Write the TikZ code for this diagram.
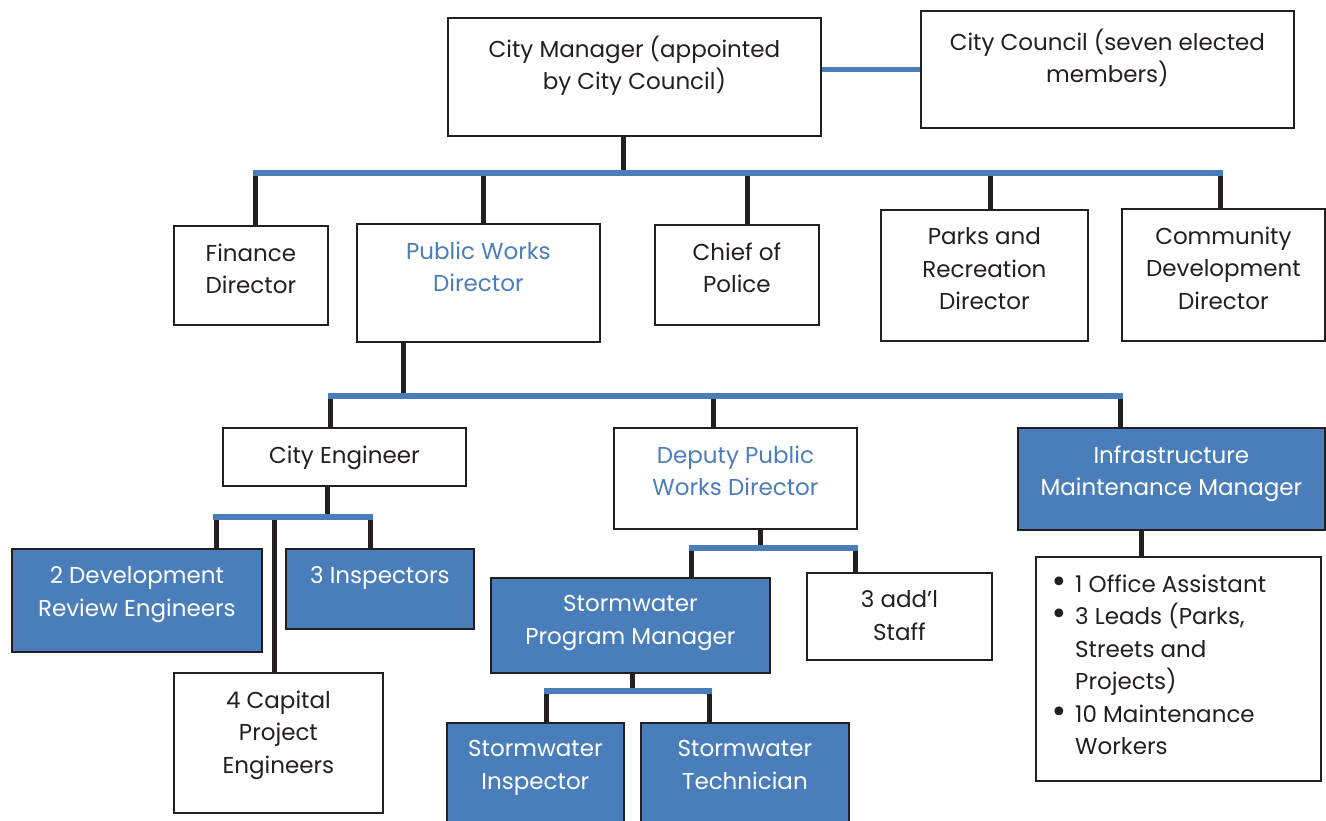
\documentclass[tikz,border=0pt]{standalone}
\usepackage{fontspec}
\setmainfont{Poppins}
\newfontfamily\dvs{DejaVu Sans}
\definecolor{bblue}{RGB}{74,126,187}
\definecolor{edge}{RGB}{35,31,32}
\newcommand\mybul{\llap{\raisebox{0pt}{\dvs\fontsize{30}{30}\selectfont •}\hspace{7pt}}}
\begin{document}
\begin{tikzpicture}[x=1pt,y=-1pt,
 box/.style={draw=edge,line width=1.8pt,fill=white,inner sep=0,anchor=north west},
 fbox/.style={box,fill=bblue},
 lbl/.style={anchor=north,align=center,inner sep=0,font=\fontsize{23}{32.5}\selectfont,text=edge,yshift=-18.5pt},
 wlbl/.style={lbl,text=white},
 blbl/.style={lbl,text=bblue},
 vline/.style={draw=edge,line width=5pt},
 hline/.style={draw=bblue,line width=5.5pt}]
\useasboundingbox (0,0) rectangle (1326,821);
% boxes
\node[box,minimum width=373,minimum height=118] (cm) at (447,17) {};
\node[box,minimum width=373,minimum height=117] (cc) at (920,10) {};
\node[box,minimum width=154,minimum height=99] (fin) at (173,225) {};
\node[box,minimum width=243,minimum height=118] (pwd) at (356,223) {};
\node[box,minimum width=164,minimum height=100] (cop) at (654,224) {};
\node[box,minimum width=207,minimum height=131] (prd) at (880,209) {};
\node[box,minimum width=203,minimum height=132] (cdd) at (1121,208) {};
\node[box,minimum width=243,minimum height=58] (ce) at (222,427) {};
\node[box,minimum width=243,minimum height=101] (dpw) at (613,427) {};
\node[fbox,minimum width=307,minimum height=102] (imm) at (1017,427) {};
\node[fbox,minimum width=250,minimum height=103] (dre) at (11,548) {};
\node[fbox,minimum width=188,minimum height=80] (ins) at (285,548) {};
\node[box,minimum width=209,minimum height=140] (cpe) at (173,672) {};
\node[fbox,minimum width=279,minimum height=95] (spm) at (490,577) {};
\node[box,minimum width=185,minimum height=87] (ads) at (806,572) {};
\node[fbox,minimum width=177,minimum height=110] (swi) at (446,722) {};
\node[fbox,minimum width=208,minimum height=110] (swt) at (640,722) {};
\node[box,minimum width=285,minimum height=224] (lst) at (1035,556) {};
% labels
\node[lbl] (tcm) at (cm.north) {City Manager (appointed\\by City Council)};
\node[lbl] (tcc) at (cc.north) {City Council (seven elected\\members)};
\node[lbl] (tfin) at (fin.north) {Finance\\Director};
\node[blbl] (tpwd) at (pwd.north) {Public Works\\Director};
\node[lbl] (tcop) at (cop.north) {Chief of\\Police};
\node[lbl] (tprd) at (prd.north) {Parks and\\Recreation\\Director};
\node[lbl] (tcdd) at (cdd.north) {Community\\Development\\Director};
\node[lbl] (tce) at (ce.north) {City Engineer};
\node[blbl] (tdpw) at (dpw.north) {Deputy Public\\Works Director};
\node[wlbl] (timm) at (imm.north) {Infrastructure\\Maintenance Manager};
\node[wlbl] (tdre) at (dre.north) {2 Development\\Review Engineers};
\node[wlbl] (tins) at (ins.north) {3 Inspectors};
\node[lbl] (tcpe) at (cpe.north) {4 Capital\\Project\\Engineers};
\node[wlbl] (tspm) at (spm.north) {Stormwater\\Program Manager};
\node[lbl] (tads) at (ads.north) {3 add’l\\Staff};
\node[wlbl] (tswi) at (swi.north) {Stormwater\\Inspector};
\node[wlbl] (tswt) at (swt.north) {Stormwater\\Technician};
\node[lbl,align=left,anchor=north west] (tlst) at ([xshift=40pt]lst.north west)
 {\mybul 1 Office Assistant\\
  \mybul 3 Leads (Parks,\\
  Streets and\\
  Projects)\\
  \mybul 10 Maintenance\\
  Workers};
% bus coordinates
\coordinate (b1) at (623,173);
\coordinate (b1l) at (252.5,173); \coordinate (b1r) at (1222.5,173);
\coordinate (d1a) at (255,173); \coordinate (d1b) at (483,173);
\coordinate (d1c) at (747,173); \coordinate (d1d) at (990,173);
\coordinate (d1e) at (1220,173);
\coordinate (b2) at (403,396);
\coordinate (b2l) at (327.5,396); \coordinate (b2r) at (1122.5,396);
\coordinate (d2a) at (330,396); \coordinate (d2b) at (713,396); \coordinate (d2c) at (1120,396);
\coordinate (b3) at (327,517);
\coordinate (b3l) at (213,517); \coordinate (b3r) at (373,517);
\coordinate (d3a) at (216,517); \coordinate (d3b) at (274,517); \coordinate (d3c) at (370,517);
\coordinate (b4) at (760,548);
\coordinate (b4l) at (688.5,548); \coordinate (b4r) at (857.5,548);
\coordinate (d4a) at (691,548); \coordinate (d4b) at (855,548);
\coordinate (b5) at (632,691);
\coordinate (b5l) at (543.5,691); \coordinate (b5r) at (711.5,691);
\coordinate (d5a) at (546,691); \coordinate (d5b) at (709,691);
\coordinate (b6) at (1141,500);
% vertical connectors
\draw[vline] (cm.south -| b1) -- (b1);
\foreach \d/\n in {d1a/fin,d1b/pwd,d1c/cop,d1d/prd,d1e/cdd} \draw[vline] (\d) -- (\n.north -| \d);
\draw[vline] (pwd.south -| b2) -- (b2);
\foreach \d/\n in {d2a/ce,d2b/dpw,d2c/imm} \draw[vline] (\d) -- (\n.north -| \d);
\draw[vline] (ce.south -| b3) -- (b3);
\foreach \d/\n in {d3a/dre,d3b/cpe,d3c/ins} \draw[vline] (\d) -- (\n.north -| \d);
\draw[vline] (dpw.south -| b4) -- (b4);
\foreach \d/\n in {d4a/spm,d4b/ads} \draw[vline] (\d) -- (\n.north -| \d);
\draw[vline] (spm.south -| b5) -- (b5);
\foreach \d/\n in {d5a/swi,d5b/swt} \draw[vline] (\d) -- (\n.north -| \d);
\draw[vline] (imm.south -| b6) -- (lst.north -| b6);
% blue buses
\draw[hline] (b1l) -- (b1r);
\draw[hline] (b2l) -- (b2r);
\draw[hline] (b3l) -- (b3r);
\draw[hline] (b4l) -- (b4r);
\draw[hline] (b5l) -- (b5r);
\draw[hline] (cm.east |- cc.west) -- (cc.west);
\end{tikzpicture}
\end{document}
